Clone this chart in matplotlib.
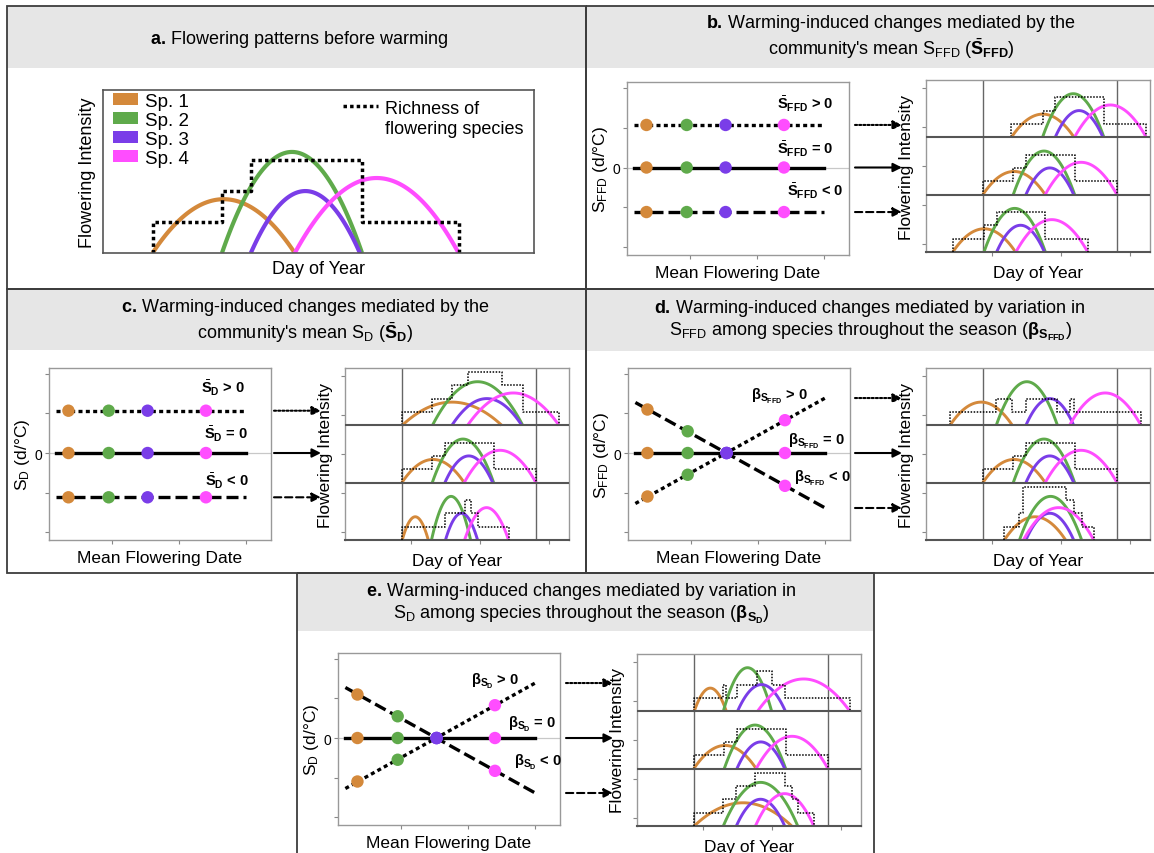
import numpy as np
import matplotlib.pyplot as plt
from matplotlib.patches import Rectangle, Patch

plt.rcParams['font.family'] = ['Liberation Sans', 'DejaVu Sans']
plt.rcParams['mathtext.fontset'] = 'custom'
plt.rcParams['mathtext.rm'] = 'Liberation Sans'
plt.rcParams['mathtext.it'] = 'Liberation Sans:italic'
plt.rcParams['mathtext.bf'] = 'Liberation Sans:bold'

# species and their flowering curves before warming (day units, relative intensity)
species = ['Sp. 1', 'Sp. 2', 'Sp. 3', 'Sp. 4']
colors = ['#D4893B', '#5FAA4B', '#7A3DE8', '#FF4DFF']
base_start = [11.5, 27.6, 34.3, 44.5]
base_end = [44.5, 60.1, 59.6, 82.5]
peak = [0.33, 0.62, 0.38, 0.46]
step = 0.19          # richness increment per flowering species

# species position along the mean flowering date axis
mfd = [0.35, 0.95, 1.53, 2.4]

# species sensitivities for upper / middle / lower scenario
b_sens = [[1.07, 1.07, 1.07, 1.07], [0, 0, 0, 0], [-1.12, -1.12, -1.12, -1.12]]
c_sens = [[1.07, 1.07, 1.07, 1.07], [0, 0, 0, 0], [-1.12, -1.12, -1.12, -1.12]]
d_sens = [[-1.1, -0.55, 0, 0.83], [0, 0, 0, 0], [1.1, 0.55, 0, -0.83]]
e_sens = [[-1.1, -0.55, 0, 0.83], [0, 0, 0, 0], [1.1, 0.55, 0, -0.83]]

# flowering start / end after warming for upper / middle / lower scenario
b_start = [[26.6, 43.1, 49.8, 60.0], base_start, [-4.4, 12.1, 18.8, 29.0]]
b_end = [[59.8, 75.6, 75.1, 98.0], base_end, [28.8, 44.6, 44.1, 67.0]]
c_start = [[11.7, 27.7, 38.0, 46.3], base_start, [11.7, 27.2, 34.6, 44.7]]
c_end = [[64.4, 75.5, 75.0, 94.7], base_end, [25.5, 47.9, 51.6, 68.0]]
d_start = [[-5.9, 18.6, 34.3, 57.4], base_start, [22.9, 30.9, 34.3, 33.0]]
d_end = [[27.1, 51.0, 59.6, 95.2], base_end, [55.3, 63.8, 59.6, 70.2]]
e_start = [[11.7, 27.1, 34.6, 45.2], base_start, [11.7, 27.1, 34.0, 44.1]]
e_end = [[28.7, 52.7, 60.0, 94.1], base_end, [63.3, 66.5, 59.6, 75.0]]

W, H = 1154, 854
fig = plt.figure(figsize=(W / 100, H / 100), dpi=100)

# pixel canvas for frames, headers and arrows
bg = fig.add_axes([0, 0, 1, 1])
bg.set_xlim(0, W)
bg.set_ylim(H, 0)
bg.axis('off')


def add_ax(l, t, r, b):
    return fig.add_axes([l / W, 1 - b / H, (r - l) / W, (b - t) / H])


def arch(s, e, h, n=80):
    x = np.linspace(s, e, n)
    c, hw = (s + e) / 2, (e - s) / 2
    return x, h * (1 - ((x - c) / hw) ** 2)


def richness(starts, ends):
    edges = sorted(set(starts) | set(ends))
    levels = []
    for a, b in zip(edges[:-1], edges[1:]):
        mid = (a + b) / 2
        n = sum(1 for s, e in zip(starts, ends) if s <= mid < e)
        levels.append(max(n, 1))
    # very short gaps between species are not shown as separate steps
    fixed = list(levels)
    for j, (a, b) in enumerate(zip(edges[:-1], edges[1:])):
        if b - a < 1.5:
            nb = [levels[k] for k in (j - 1, j + 1) if 0 <= k < len(levels)]
            fixed[j] = max(nb)
    xs, ys = [edges[0]], [0]
    for (a, b), n in zip(zip(edges[:-1], edges[1:]), fixed):
        xs += [a, b]
        ys += [n * step, n * step]
    xs.append(edges[-1])
    ys.append(0)
    return np.array(xs), np.array(ys)


# panel frames and grey headers
panels = [(7, 7, 586, 290, 69), (586, 7, 1160, 290, 69),
          (7, 290, 586, 574, 351), (586, 290, 1160, 574, 352),
          (297, 574, 874, 860, 632)]
for x0, y0, x1, y1, hb in panels:
    bg.add_patch(Rectangle((x0, y0), x1 - x0, hb - y0, fc='#e6e6e6', ec='none'))
for x0, y0, x1, y1, hb in panels:
    bg.add_patch(Rectangle((x0, y0), x1 - x0, y1 - y0, fill=False, ec='#3d3d3d', lw=1.3))

tfs = 13
bg.text(299, 40, r'$\mathbf{a.}\,$Flowering patterns before warming', ha='center', va='center', fontsize=tfs)
bg.text(891, 24, r'$\mathbf{b.}\,$Warming-induced changes mediated by the', ha='center', va='center', fontsize=tfs)
bg.text(891, 49, r"community's mean $\mathrm{S}_{\mathrm{FFD}}$ ($\bar{\mathbf{S}}_{\mathbf{FFD}}$)",
        ha='center', va='center', fontsize=tfs)
bg.text(305, 308, r'$\mathbf{c.}\,$Warming-induced changes mediated by the', ha='center', va='center', fontsize=tfs)
bg.text(305, 333, r"community's mean $\mathrm{S}_{\mathrm{D}}$ ($\bar{\mathbf{S}}_{\mathbf{D}}$)",
        ha='center', va='center', fontsize=tfs)
bg.text(870, 309, r'$\mathbf{d.}\,$Warming-induced changes mediated by variation in', ha='center', va='center', fontsize=tfs)
bg.text(870, 332, r'$\mathrm{S}_{\mathrm{FFD}}$ among species throughout the season ($\mathbf{β}_{\mathbf{S}_{\mathbf{FFD}}}$)',
        ha='center', va='center', fontsize=tfs)
bg.text(581, 592, r'$\mathbf{e.}\,$Warming-induced changes mediated by variation in', ha='center', va='center', fontsize=tfs)
bg.text(581, 615, r'$\mathrm{S}_{\mathrm{D}}$ among species throughout the season ($\mathbf{β}_{\mathbf{S}_{\mathbf{D}}}$)',
        ha='center', va='center', fontsize=tfs)

lfs = 12.5

# ---- panel a: flowering before warming ----
ax = add_ax(103, 91, 534, 254)
for i in range(4):
    x, y = arch(base_start[i], base_end[i], peak[i])
    ax.plot(x, y, color=colors[i], lw=3, solid_capstyle='butt')
rx, ry = richness(base_start, base_end)
ax.plot(rx, ry, color='k', lw=2.5, ls=(0, (1, 0.9)))
ax.set_xlim(0, 100)
ax.set_ylim(0, 1)
ax.set_xticks([])
ax.set_yticks([])
for sp in ax.spines.values():
    sp.set_color('#555555')
    sp.set_linewidth(1.2)
ax.set_xlabel('Day of Year', fontsize=13, labelpad=5)
ax.set_ylabel('Flowering Intensity', fontsize=13, labelpad=5)
handles = [Patch(facecolor=c, edgecolor='none') for c in colors]
ax.legend(handles, species, loc='upper left', bbox_to_anchor=(0.012, 1.01), frameon=False,
          fontsize=13.5, handlelength=1.35, handleheight=0.6, labelspacing=0.1,
          handletextpad=0.35, borderaxespad=0, borderpad=0.25)
ax.plot([0.557, 0.638], [0.902, 0.902], transform=ax.transAxes, color='k', lw=2.5, ls=(0, (1, 0.9)))
ax.text(0.654, 0.826, 'Richness of\nflowering species', transform=ax.transAxes,
        fontsize=13, va='center', ha='left', linespacing=1.25)

band = 0.815
season = (min(base_start), max(base_end))
line_styles = [(0, (1.2, 1.0)), '-', (0, (3.6, 1.5))]
arrow_styles = [(0, (1, 1)), '-', (0, (3.5, 1.8))]


def left_plot(rect, sens, ylabel, labels, label_xy):
    ax = add_ax(*rect)
    ax.axhline(0, color='#c8c8c8', lw=0.9, zorder=0)
    ends = []
    for k, s in enumerate(sens):
        slope, icpt = np.polyfit(mfd, s, 1)
        lx = np.array([0.17, 3.0])
        ly = icpt + slope * lx
        ax.plot(lx, ly, color='k', lw=2.4, ls=line_styles[k], zorder=2)
        ax.scatter(mfd, s, c=colors, s=80, edgecolors='none', zorder=3)
        ends.append(ly[-1])
        ax.text(label_xy[k][0], label_xy[k][1], labels[k], fontsize=10.5,
                fontweight='bold', ha='left', va='center')
    ax.set_xlim(0.06, 3.37)
    ax.set_ylim(-2.2, 2.15)
    ax.set_xticks([1, 2, 3])
    ax.set_xticklabels([])
    ax.set_yticks([-2, -1, 0, 1, 2])
    ax.set_yticklabels(['', '', '0', '', ''])
    ax.tick_params(length=3, width=0.8, color='#888888', labelsize=10, pad=2)
    for sp in ax.spines.values():
        sp.set_color('#999999')
        sp.set_linewidth(1)
    ax.set_ylabel(ylabel, fontsize=lfs, labelpad=2)
    ax.set_xlabel('Mean Flowering Date', fontsize=lfs, labelpad=2)
    # pixel heights of the line ends, for the arrows
    ys = [H - ax.transData.transform((3.0, v))[1] for v in ends]
    return ax, ys


def stack_plot(rect, starts, ends, arrow_y):
    ax = add_ax(*rect)
    for k in range(3):
        base = (2 - k) * band
        for i in range(4):
            x, y = arch(starts[k][i], ends[k][i], peak[i])
            ax.plot(x, base + y, color=colors[i], lw=2.1, solid_capstyle='butt', zorder=2)
        rx, ry = richness(starts[k], ends[k])
        ax.plot(rx, base + ry, color='k', lw=1.1, ls=(0, (1, 1)), zorder=3)
    for v in (band, 2 * band):
        ax.axhline(v, color='#555555', lw=1.5, zorder=4)
    for v in season:
        ax.axvline(v, color='#666666', lw=1, zorder=1)
    ax.set_xlim(-18.6, 100)
    ax.set_ylim(0, 3 * band)
    ax.set_xticks([16.5, 53, 89.5])
    ax.set_xticklabels([])
    ax.set_yticks(1.5 * band + np.arange(-2, 3) * 0.556)
    ax.set_yticklabels([])
    ax.tick_params(length=3, width=0.8, color='#888888')
    for sp in ax.spines.values():
        sp.set_color('#999999')
        sp.set_linewidth(1)
    ax.spines['bottom'].set_color('#555555')
    ax.spines['bottom'].set_linewidth(1.5)
    ax.set_ylabel('Flowering Intensity', fontsize=lfs, labelpad=2)
    ax.set_xlabel('Day of Year', fontsize=lfs, labelpad=3)
    x1 = rect[0] - 24
    x0 = rect[0] - 71
    for k, y in enumerate(arrow_y):
        bg.annotate('', xy=(x1, y), xytext=(x0, y),
                    arrowprops=dict(arrowstyle='-|>', color='k', lw=1.5, ls=arrow_styles[k],
                                    mutation_scale=13, shrinkA=0, shrinkB=0))
    return ax


sffd = r'$\bar{\mathbf{S}}_{\mathbf{FFD}}$'
sd = r'$\bar{\mathbf{S}}_{\mathbf{D}}$'
bffd = r'$\mathbf{β}_{\mathbf{S}_{\mathbf{FFD}}}$'
bd = r'$\mathbf{β}_{\mathbf{S}_{\mathbf{D}}}$'
ops = [' > 0', ' = 0', ' < 0']

_, ay = left_plot((627, 83, 849, 256), b_sens, r'$\mathrm{S}_{\mathrm{FFD}}$ (d/°C)',
                  [sffd + o for o in ops], [(2.3, 1.62), (2.3, 0.48), (2.44, -0.58)])
stack_plot((926, 81, 1150, 253), b_start, b_end, ay)

_, ay = left_plot((49, 369, 271, 541), c_sens, r'$\mathrm{S}_{\mathrm{D}}$ (d/°C)',
                  [sd + o for o in ops], [(2.33, 1.65), (2.37, 0.5), (2.38, -0.69)])
stack_plot((345, 369, 569, 541), c_start, c_end, ay)

_, ay = left_plot((628, 369, 850, 541), d_sens, r'$\mathrm{S}_{\mathrm{FFD}}$ (d/°C)',
                  [bffd + o for o in ops], [(1.9, 1.45), (2.44, 0.33), (2.54, -0.61)])
stack_plot((926, 369, 1150, 541), d_start, d_end, ay)

_, ay = left_plot((338, 654, 560, 826), e_sens, r'$\mathrm{S}_{\mathrm{D}}$ (d/°C)',
                  [bd + o for o in ops], [(2.05, 1.45), (2.59, 0.38), (2.68, -0.59)])
stack_plot((637, 655, 861, 827), e_start, e_end, ay)

fig.savefig('out.png', dpi=100)
